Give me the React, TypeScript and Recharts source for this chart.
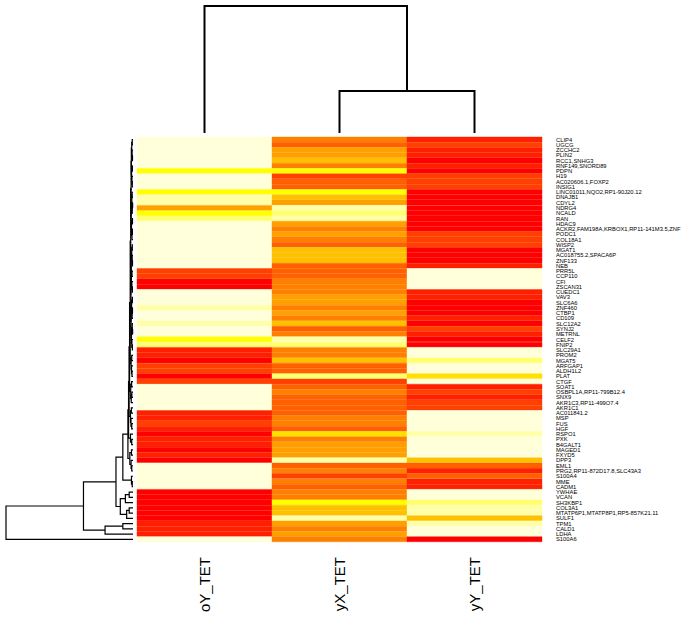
import { BarChart, Bar, Cell, XAxis, YAxis, ComposedChart, Line } from 'recharts';

// heatmap: 3 samples x 77 genes, values are colour levels 0 (red) .. 11 (cream)
const columns = ['oY_TET', 'yX_TET', 'yY_TET'];

const genes = [
  'CLIP4', 'UGCG', 'ZCCHC2', 'PLIN2', 'RCC1,SNHG3', 'RNF149,SNORD89', 'PDPN', 'H19',
  'AC020606.1,FOXP2', 'INSIG1', 'LINC01011,NQO2,RP1-90J20.12', 'DNAJB1', 'CDYL2', 'NDRG4',
  'NCALD', 'RAN', 'HDAC9', 'ACKR2,FAM198A,KRBOX1,RP11-141M3.5,ZNF', 'PODC1', 'COL18A1',
  'WISP2', 'MGAT1', 'AC018755.2,SPACA6P', 'ZNF133', 'NEB', 'PRR5L', 'CCP110', 'CFI',
  'ZSCAN31', 'CUEDC1', 'VAV3', 'SLC6A6', 'ZNF460', 'CTBP1', 'CD109', 'SLC12A2', 'SYNJ2',
  'METRNL', 'CELF2', 'FNIP2', 'SLC29A1', 'PROM2', 'MGAT5', 'ARFGAP1', 'ALDH1L2', 'PLAT',
  'CTGF', 'SOAT1', 'OSBPL1A,RP11-799B12.4', 'SNX9', 'AKR1C3,RP11-499O7.4', 'AKR1C1',
  'AC011841.2', 'MSP', 'FUS', 'HGF', 'RSPO1', 'PXK', 'B4GALT1', 'MAGED1', 'FXYD5', 'DPP3',
  'EML1', 'PRG2,RP11-872D17.8,SLC43A3', 'S100A4', 'MME', 'CADM1', 'YWHAE', 'VCAN',
  'SH3KBP1', 'COL3A1', 'MTATP6P1,MTATP8P1,RP5-857K21.11', 'SULF1', 'TPM1', 'CALD1', 'LDHA',
  'S100A6',
];

const oYLevels = [
  11, 11, 11, 11, 11, 11, 8, 11, 11, 11,
  8, 10, 10, 5, 8, 9, 11, 11, 11, 11,
  11, 11, 11, 11, 11, 2, 2, 0, 0, 11,
  11, 11, 10, 11, 11, 10, 11, 11, 8, 9,
  1, 1, 0, 2, 2, 0, 2, 11, 11, 11,
  11, 11, 1, 1, 2, 1, 0, 1, 1, 0,
  1, 0, 11, 11, 11, 11, 11, 0, 0, 0,
  0, 0, 0, 1, 1, 1, 11,
];

const yXLevels = [
  4, 3, 5, 5, 6, 4, 8, 2, 3, 3,
  8, 6, 5, 10, 9, 10, 5, 4, 5, 4,
  3, 6, 6, 6, 3, 3, 3, 4, 4, 4,
  5, 5, 4, 5, 4, 6, 3, 4, 10, 9,
  4, 4, 6, 3, 3, 9, 2, 3, 4, 3,
  3, 3, 3, 4, 4, 3, 7, 4, 5, 5,
  5, 10, 3, 4, 2, 4, 3, 4, 4, 8,
  6, 6, 10, 5, 4, 5, 4,
];

const yYLevels = [
  1, 2, 1, 1, 0, 1, 0, 2, 2, 2,
  0, 0, 0, 0, 0, 0, 0, 0, 2, 2,
  2, 0, 0, 0, 1, 11, 11, 11, 11, 1,
  1, 0, 0, 0, 1, 0, 2, 1, 0, 0,
  11, 11, 9, 11, 11, 7, 11, 1, 2, 1,
  2, 2, 11, 11, 11, 11, 10, 11, 11, 11,
  11, 6, 3, 1, 3, 1, 1, 11, 11, 9,
  10, 10, 6, 10, 11, 11, 0,
];

// dendrograms: node = [height, left, right], leaf = index
type Tree = number | [number, Tree, Tree];

const colTree: Tree = [1.0, 0, [0.33, 1, 2]];

const rowG0: Tree = [0.010, [0.006, 0, 1], [0.008, 2, [0.004, 3, 4]]];
const rowG1: Tree = [0.011, [0.005, 5, 6], [0.009, 7, [0.006, 8, 9]]];
const rowG2: Tree = [0.009, [0.007, 10, 11], [0.006, [0.003, 12, 13], 14]];
const rowG3: Tree = [0.012, [0.004, 15, 16], [0.008, [0.005, 17, 18], 19]];
const rowG4: Tree = [0.010, [0.006, 20, 21], [0.007, 22, [0.004, 23, 24]]];
const rowG5: Tree = [0.013, [0.008, 25, 26], [0.009, 27, [0.005, 28, 29]]];
const rowG6: Tree = [0.011, [0.005, 30, 31], [0.007, [0.004, 32, 33], 34]];
const rowG7: Tree = [0.012, [0.006, 35, [0.003, 36, 37]], [0.009, 38, [0.005, 39, 40]]];
const rowG8: Tree = [0.015, [0.010, 41, 42], [0.012, 43, [0.008, 44, 45]]];
const rowG9: Tree = [0.018, [0.011, 46, 47], [0.014, [0.009, 48, 49], 50]];
const rowG10: Tree = [0.020, [0.013, 51, 52], [0.016, 53, [0.010, 54, 55]]];
const rowG11: Tree = [0.020, 56, [0.010, 57, 58]];
const rowG12: Tree = [0.025, [0.012, 59, 60], [0.015, 61, [0.010, 62, 63]]];
const rowG13: Tree = [0.012, 64, [0.006, 65, 66]];
const rowG14: Tree = [0.10, [0.06, [0.03, 67, 68], 69], [0.05, [0.03, 70, 71], 72]];

const rowStack: Tree = [0.040,
  [0.035,
    [0.031,
      [0.027,
        [0.022,
          [0.018,
            [0.015, [0.013, rowG0, rowG1], [0.014, rowG2, rowG3]],
            [0.016, [0.014, rowG4, rowG5], [0.015, rowG6, rowG7]]],
          rowG8],
        rowG9],
      rowG10],
    rowG11],
  rowG12];

const rowTree: Tree = [1.0,
  [0.39,
    [0.134, [0.08, rowStack, rowG13], rowG14],
    [0.22, [0.08, 73, 74], 75]],
  76];

const heat = [
  '#FF0000', '#FF2000', '#FF4000', '#FF6000', '#FF8000', '#FFA000',
  '#FFC000', '#FFE000', '#FFFF00', '#FFFF70', '#FFFFA8', '#FFFFD9',
];

const font = '"Liberation Sans", Arial, Helvetica, sans-serif';

interface Pt { pos: number; h: number }

function buildSegments(tree: Tree, out: Pt[][]): Pt {
  if (typeof tree === 'number') return { pos: tree + 0.5, h: 0 };
  const [h, l, r] = tree;
  const a = buildSegments(l, out);
  const b = buildSegments(r, out);
  out.push([
    { pos: a.pos, h: a.h },
    { pos: a.pos, h },
    { pos: b.pos, h },
    { pos: b.pos, h: b.h },
  ]);
  return { pos: (a.pos + b.pos) / 2, h };
}

const rowSegs: Pt[][] = [];
buildSegments(rowTree, rowSegs);
const colSegs: Pt[][] = [];
buildSegments(colTree, colSegs);

const heatData = genes.map((g) => ({ gene: g, oY: 1, yX: 1, yY: 1 }));

const ColTick = (props: any) => {
  const { x, y, payload } = props;
  return (
    <text
      x={x}
      y={y}
      transform={`rotate(-90 ${x} ${y})`}
      textAnchor="end"
      dominantBaseline="central"
      fontSize={15}
      fontFamily={font}
      fill="#000"
    >
      {columns[Math.floor(payload.value)]}
    </text>
  );
};

const RowTick = (props: any) => {
  const { y, payload } = props;
  return (
    <text x={556} y={y} dominantBaseline="central" fontSize={5.8} fontFamily={font} fill="#000">
      {payload.value}
    </text>
  );
};

const series: [string, number[]][] = [
  ['oY', oYLevels],
  ['yX', yXLevels],
  ['yY', yYLevels],
];

export default function App() {
  return (
    <div style={{ position: 'absolute', left: 0, top: 0, width: 685, height: 617, background: '#fff' }}>
      <div style={{ position: 'absolute', left: 0, top: 0 }}>
        <BarChart
          width={685}
          height={617}
          data={heatData}
          layout="vertical"
          barCategoryGap={0}
          barGap={0}
          margin={{ top: 137, left: 137, right: 0, bottom: 0 }}
        >
          <XAxis
            type="number"
            domain={[0, 3]}
            ticks={[0.5, 1.5, 2.5]}
            height={75}
            axisLine={false}
            tickLine={false}
            tickSize={6}
            tickMargin={9}
            tick={<ColTick />}
            interval={0}
          />
          <YAxis
            type="category"
            dataKey="gene"
            orientation="right"
            width={143}
            interval={0}
            axisLine={false}
            tickLine={false}
            tick={<RowTick />}
          />
          {series.map(([key, levels]) => (
            <Bar key={key} dataKey={key} stackId="s" isAnimationActive={false}>
              {levels.map((v, i) => (
                <Cell key={i} fill={heat[v]} stroke={heat[v]} strokeWidth={0.4} />
              ))}
            </Bar>
          ))}
        </BarChart>
      </div>

      <div style={{ position: 'absolute', left: 0, top: 0 }}>
        <ComposedChart width={137} height={617} margin={{ top: 137, bottom: 75, left: 6, right: 4 }}>
          <XAxis type="number" dataKey="h" domain={[0, 1]} reversed hide />
          <YAxis type="number" domain={[0, 77]} reversed hide />
          {rowSegs.map((seg, i) => (
            <Line
              key={i}
              data={seg}
              dataKey="pos"
              type="linear"
              stroke="#000"
              strokeWidth={1.2}
              dot={false}
              activeDot={false}
              isAnimationActive={false}
            />
          ))}
        </ComposedChart>
      </div>

      <div style={{ position: 'absolute', left: 0, top: 0 }}>
        <ComposedChart width={685} height={137} margin={{ top: 6, bottom: 4, left: 137, right: 143 }}>
          <XAxis type="number" dataKey="pos" domain={[0, 3]} hide />
          <YAxis type="number" domain={[0, 1]} hide />
          {colSegs.map((seg, i) => (
            <Line
              key={i}
              data={seg}
              dataKey="h"
              type="linear"
              stroke="#000"
              strokeWidth={2}
              dot={false}
              activeDot={false}
              isAnimationActive={false}
            />
          ))}
        </ComposedChart>
      </div>
    </div>
  );
}
